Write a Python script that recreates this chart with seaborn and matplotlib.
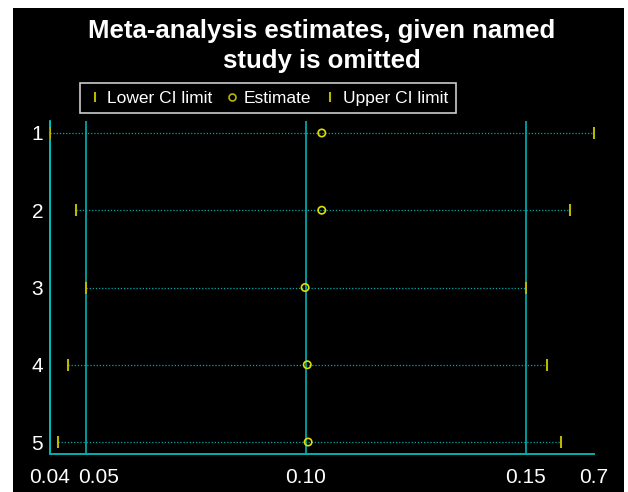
import matplotlib
matplotlib.use("Agg")
import matplotlib.pyplot as plt
import matplotlib.transforms as mtransforms
from matplotlib.patches import Rectangle
from matplotlib.lines import Line2D
import numpy as np
import pandas as pd
import seaborn as sns

# values
studies = [1, 2, 3, 4, 5]
estimate = [0.1036, 0.1036, 0.0998, 0.1003, 0.1005]
lower_ci = [0.0418, 0.0477, 0.0500, 0.0460, 0.0436]
upper_ci = [0.1655, 0.1600, 0.1500, 0.1549, 0.1579]
ref_lines = [0.05, 0.10, 0.15]
xtick_labels = ["0.04", "0.05", "0.10", "0.15", "0.7"]

df = pd.DataFrame({"study": studies, "estimate": estimate,
                   "lower": lower_ci, "upper": upper_ci})

sns.set_style("dark")
plt.rcParams['font.family'] = ['Liberation Sans', 'DejaVu Sans']

fig = plt.figure(figsize=(6.28, 4.92), dpi=100)
fig.patch.set_facecolor("white")
# black panel with small white margin, like the original export
fig.add_artist(Rectangle((13 / 628, 0), (624 - 13) / 628, 484 / 492,
                         transform=fig.transFigure, facecolor="black",
                         edgecolor="none", zorder=-10))

ax = fig.add_axes([50 / 628, 1 - 454 / 492, 544 / 628, 333 / 492])
ax.set_facecolor("black")

teal = "#009a9a"
ci_col = "#b8b800"

for xv in ref_lines:
    ax.axvline(xv, color=teal, lw=1.4, zorder=1)

ax.hlines(df["study"], df["lower"], df["upper"], colors="#00a8a8",
          linestyles=(0, (1, 1.5)), lw=0.9, zorder=2)

sns.scatterplot(data=df, x="lower", y="study", marker="|", s=70,
                color=ci_col, linewidth=1.5, ax=ax, zorder=3)
sns.scatterplot(data=df, x="upper", y="study", marker="|", s=70,
                color=ci_col, linewidth=1.5, ax=ax, zorder=3)
sns.scatterplot(data=df, x="estimate", y="study", marker="o", s=28,
                facecolor="none", edgecolor="#e0e000", linewidth=1.2,
                ax=ax, zorder=4)

xmin, xmax = min(lower_ci), max(upper_ci)
ax.set_xlim(xmin, xmax)
ax.set_ylim(5.155, 0.845)
ax.set_xticks([xmin] + ref_lines + [xmax])
ax.set_xticklabels(xtick_labels)
ax.set_yticks(studies)
ax.set_yticklabels([str(s) for s in studies])
ax.set_xlabel("")
ax.set_ylabel("")
ax.grid(False)

ax.tick_params(axis="x", colors=teal, length=7, width=1.4, labelcolor="white",
               labelsize=15, pad=3)
ax.tick_params(axis="y", length=0, labelcolor="white", labelsize=15, pad=5)
tick_cols = ["#00e0e0", teal, teal, teal, "#00e0e0"]
for t, c in zip(ax.xaxis.get_major_ticks(), tick_cols):
    t.tick1line.set_color(c)

# the 0.05 label is nudged right so it clears the 0.04 label
shift = mtransforms.ScaledTranslation(13 / 100, 0, fig.dpi_scale_trans)
lab = ax.get_xticklabels()[1]
lab.set_transform(lab.get_transform() + shift)

for side in ["top", "right"]:
    ax.spines[side].set_visible(False)
ax.spines["left"].set_color("#00e0e0")
ax.spines["left"].set_linewidth(1.2)
ax.spines["bottom"].set_color("#00b0b0")
ax.spines["bottom"].set_linewidth(1.4)

fig.text(0.512, 1 - 46 / 492, "Meta-analysis estimates, given named\nstudy is omitted",
         ha="center", va="center", color="white", fontsize=18.5,
         fontweight="bold", linespacing=1.28)

handles = [
    Line2D([], [], marker="|", ls="none", color=ci_col, markersize=7, mew=1.5),
    Line2D([], [], marker="o", ls="none", markerfacecolor="none",
           markeredgecolor=ci_col, markersize=5, mew=1.2),
    Line2D([], [], marker="|", ls="none", color=ci_col, markersize=7, mew=1.5),
]
leg = fig.legend(handles, ["Lower CI limit", "Estimate", "Upper CI limit"],
                 loc="center", bbox_to_anchor=(268 / 628, 1 - 98 / 492),
                 ncol=3, frameon=True, fontsize=12.5, handlelength=0.8,
                 handletextpad=0.3, columnspacing=0.7, borderpad=0.45,
                 fancybox=False)
leg.get_frame().set_facecolor("black")
leg.get_frame().set_edgecolor("white")
leg.get_frame().set_linewidth(1.2)
for txt in leg.get_texts():
    txt.set_color("white")

fig.savefig("out.png", dpi=100, facecolor=fig.get_facecolor())
